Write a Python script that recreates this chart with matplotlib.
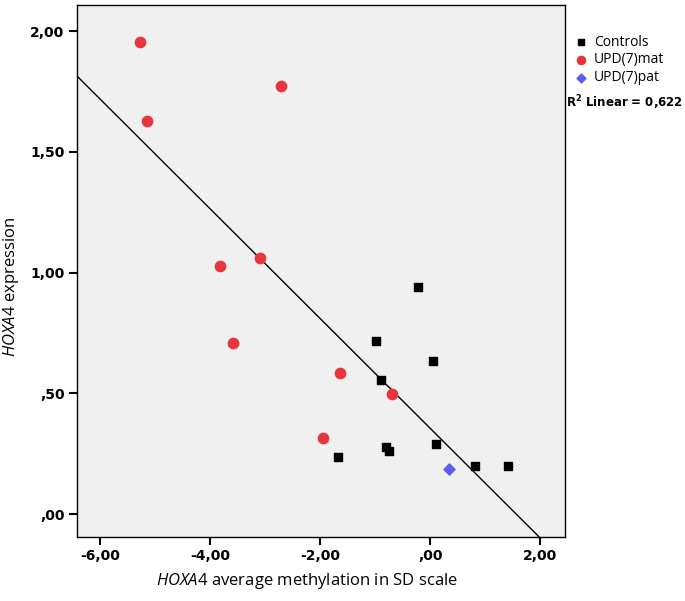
import numpy as np
import matplotlib.pyplot as plt

plt.rcParams["mathtext.fontset"] = "custom"
plt.rcParams["mathtext.it"] = "Open Sans:italic"
plt.rcParams["mathtext.rm"] = "Open Sans"
plt.rcParams["mathtext.bf"] = "DejaVu Sans:bold"

# values
ctrl_x = [-0.23, -0.99, 0.06, -0.89, 0.10, -0.81, -0.74, -1.68, 0.81, 1.42]
ctrl_y = [0.939, 0.715, 0.632, 0.555, 0.289, 0.276, 0.261, 0.237, 0.199, 0.199]
mat_x = [-5.27, -5.15, -2.71, -3.82, -3.09, -3.58, -1.64, -0.69, -1.95]
mat_y = [1.954, 1.627, 1.772, 1.027, 1.060, 0.708, 0.584, 0.497, 0.315]
pat_x = [0.35]
pat_y = [0.186]

x_ticks = [-6, -4, -2, 0, 2]
x_tick_labels = ["-6,00", "-4,00", "-2,00", ",00", "2,00"]
y_ticks = [0, 0.5, 1.0, 1.5, 2.0]
y_tick_labels = [",00", ",50", "1,00", "1,50", "2,00"]
r2_text = "Linear = 0,622"

fig = plt.figure(figsize=(6.85, 6.01), dpi=100)
ax = fig.add_axes([0.1124, 0.1065, 0.7124, 0.8852])
ax.set_facecolor("#f0f0f0")

# fit line over all points
all_x = np.array(ctrl_x + mat_x + pat_x)
all_y = np.array(ctrl_y + mat_y + pat_y)
slope, icpt = np.polyfit(all_x, all_y, 1)
xl = np.array([-6.42, 2.45])
ax.plot(xl, slope * xl + icpt, color="black", linewidth=1.0, zorder=2)

ax.scatter(ctrl_x, ctrl_y, marker="s", s=36, color="black", zorder=3, label="Controls")
ax.scatter(mat_x, mat_y, marker="o", s=55, color="#e8343a", zorder=3, label="UPD(7)mat")
ax.scatter(pat_x, pat_y, marker="D", s=32, color="#5a5cf2", zorder=3, label="UPD(7)pat")

ax.set_xlim(-6.42, 2.45)
ax.set_ylim(-0.095, 2.108)

ax.set_xticks(x_ticks)
ax.set_xticklabels(x_tick_labels, fontweight="bold", fontsize=10)
ax.set_yticks(y_ticks)
ax.set_yticklabels(y_tick_labels, fontweight="bold", fontsize=10)
ax.tick_params(direction="out", length=6, width=1.5, color="black", pad=3)

for spine in ax.spines.values():
    spine.set_linewidth(1.0)
    spine.set_color("black")

ax.set_xlabel("$\\it{HOXA4}$ average methylation in SD scale", fontsize=12,
              fontfamily="Open Sans")
ax.xaxis.set_label_coords(0.471, -0.063)
ax.set_ylabel("$\\it{HOXA4}$ expression", fontsize=12, fontfamily="Open Sans")
ax.yaxis.set_label_coords(-0.115, 0.47)

leg = ax.legend(loc="upper left", bbox_to_anchor=(0.99, 0.965), frameon=False,
                handletextpad=0.25, labelspacing=0.2, handlelength=1.4,
                borderaxespad=0.4, markerscale=0.8,
                prop={"family": "Open Sans", "size": 10})

fig.text(0.826, 0.829, "R$^\\mathbf{2}$ " + r2_text, fontsize=8.5, fontweight="bold",
         ha="left", va="center")

fig.savefig("out.png", dpi=100)
